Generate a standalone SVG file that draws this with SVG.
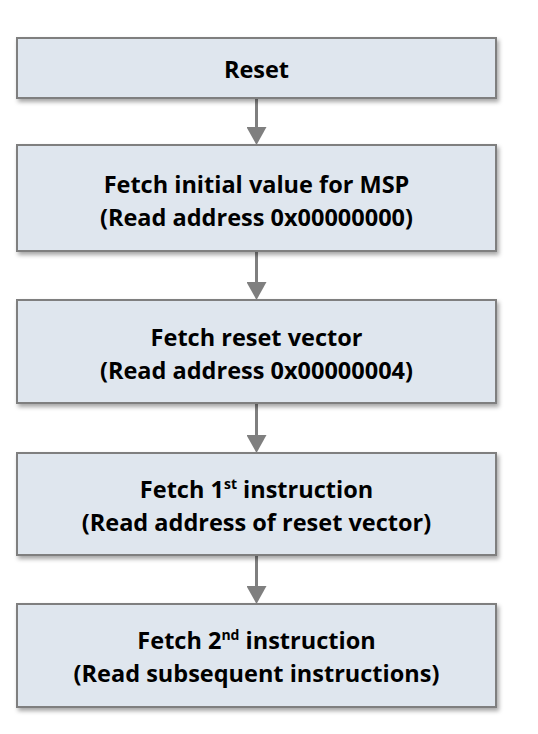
<svg xmlns="http://www.w3.org/2000/svg" width="538" height="734" viewBox="0 0 538 734">
<style>
.box{fill:#dfe6ee;stroke:#7f7f7f;stroke-width:2;filter:url(#sh)}
.t{font-family:"Open Sans","Liberation Sans",sans-serif;font-weight:bold;font-size:23.5px;fill:#000;text-anchor:middle}
.sup{font-size:14px}
.c{stroke:#7f7f7f;stroke-width:3;fill:none;marker-end:url(#ah)}
</style>
<defs>
<filter id="sh" x="-5%" y="-10%" width="110%" height="130%">
<feDropShadow dx="2" dy="3" stdDeviation="2" flood-color="#000" flood-opacity="0.35"/>
</filter>
<marker id="ah" markerUnits="userSpaceOnUse" markerWidth="18" markerHeight="20" refX="0" refY="10" orient="auto" viewBox="0 0 18 20">
<path d="M0,0 L18,10 L0,20 Z" fill="#7f7f7f"/>
</marker>
</defs>
<g id="connectors">
<line class="c" x1="256.5" y1="99" x2="256.5" y2="127"/>
<line class="c" x1="256.5" y1="252" x2="256.5" y2="282"/>
<line class="c" x1="256.5" y1="404" x2="256.5" y2="435"/>
<line class="c" x1="256.5" y1="556" x2="256.5" y2="586"/>
</g>
<g id="n1">
<rect class="box" x="17" y="38" width="479" height="60"/>
<text class="t" x="256.5" y="78">Reset</text>
</g>
<g id="n2">
<rect class="box" x="17" y="145" width="479" height="106"/>
<text class="t" x="256.5" y="193">Fetch initial value for MSP</text>
<text class="t" x="256.5" y="226">(Read address 0x00000000)</text>
</g>
<g id="n3">
<rect class="box" x="17" y="300" width="479" height="103"/>
<text class="t" x="256.5" y="346">Fetch reset vector</text>
<text class="t" x="256.5" y="379">(Read address 0x00000004)</text>
</g>
<g id="n4">
<rect class="box" x="17" y="453" width="479" height="102"/>
<text class="t" x="256.5" y="498">Fetch 1<tspan class="sup" dy="-9">st</tspan><tspan dy="9"> instruction</tspan></text>
<text class="t" x="256.5" y="531">(Read address of reset vector)</text>
</g>
<g id="n5">
<rect class="box" x="17" y="604" width="479" height="103"/>
<text class="t" x="256.5" y="649">Fetch 2<tspan class="sup" dy="-9">nd</tspan><tspan dy="9"> instruction</tspan></text>
<text class="t" x="256.5" y="682">(Read subsequent instructions)</text>
</g>
</svg>
